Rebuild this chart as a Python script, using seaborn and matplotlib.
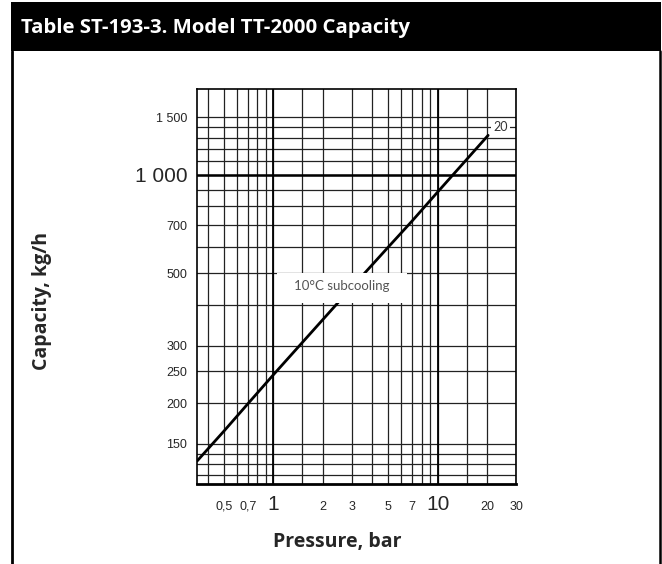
import seaborn as sns
import matplotlib.pyplot as plt
import pandas as pd
from matplotlib.patches import Rectangle

# values
pressure = [0.344, 0.5, 0.7, 1, 2, 3, 5, 7, 10, 20.3]
capacity = [133, 164, 199, 244, 360, 452, 600, 722, 885, 1320]

x_grid = [0.4, 0.5, 0.6, 0.7, 0.8, 0.9, 1, 1.5, 2, 3, 4, 5, 6, 7, 8, 9, 10, 15, 20, 30]
x_ticks = [0.5, 0.7, 1, 2, 3, 5, 7, 10, 20, 30]
x_labels = ["0,5", "0,7", "1", "2", "3", "5", "7", "10", "20", "30"]
y_grid = [120, 130, 140, 150, 200, 250, 300, 400, 500, 600, 700, 800, 900,
          1000, 1100, 1200, 1300, 1400, 1500]
y_ticks = [150, 200, 250, 300, 500, 700, 1000, 1500]
y_labels = ["150", "200", "250", "300", "500", "700", "1 000", "1 500"]
big_labels = ["1", "10", "1 000"]

df = pd.DataFrame({"Pressure": pressure, "Capacity": capacity})

sns.set_style("white")
plt.rcParams["font.family"] = ["Liberation Sans", "DejaVu Sans"]
head_font = ["Open Sans", "DejaVu Sans"]

W, H = 662, 564
fig = plt.figure(figsize=(W / 100, H / 100), dpi=100)
ax = fig.add_axes([197 / W, 1 - 484 / H, (516 - 197) / W, (484 - 89) / H])

sns.lineplot(data=df, x="Pressure", y="Capacity", color="black", linewidth=2.0, ax=ax, zorder=3)

ax.set_xscale("log")
ax.set_yscale("log")
ax.set_xlim(0.343, 30)
ax.set_ylim(113, 1830)

ax.set_xticks(x_grid, minor=True)
ax.set_yticks(y_grid, minor=True)
ax.set_xticks(x_ticks)
ax.set_xticklabels(x_labels)
ax.set_yticks(y_ticks)
ax.set_yticklabels(y_labels)
ax.xaxis.set_minor_formatter(plt.NullFormatter())
ax.yaxis.set_minor_formatter(plt.NullFormatter())
ax.tick_params(which="both", length=0)
ax.grid(which="both", color="#222222", linewidth=0.9)
ax.axhline(1000, color="black", linewidth=1.8, zorder=2)
ax.axvline(1, color="black", linewidth=1.3, zorder=2)
ax.axvline(10, color="black", linewidth=1.3, zorder=2)

for lab, tick in zip(ax.get_xticklabels(), ax.xaxis.get_major_ticks()):
    if lab.get_text() in big_labels:
        lab.set_fontsize(15)
        tick.set_pad(8)
    else:
        lab.set_fontsize(9)
        tick.set_pad(12)
for lab, tick in zip(ax.get_yticklabels(), ax.yaxis.get_major_ticks()):
    lab.set_fontsize(15 if lab.get_text() in big_labels else 9)
    tick.set_pad(7)

ax.set_xlabel("")
ax.set_ylabel("")
for side in ["left", "top", "right"]:
    ax.spines[side].set_linewidth(1.2)
    ax.spines[side].set_color("black")
ax.spines["bottom"].set_linewidth(2.0)
ax.spines["bottom"].set_color("black")

# label boxes
ax.add_patch(Rectangle((1.05, 405), 6.51 - 1.05, 500 - 405, facecolor="white",
                       edgecolor="none", zorder=4))
ax.text(2.6, 455, "10°C subcooling", ha="center", va="center", fontsize=9.5,
        color="#555555", family=["Lato", "DejaVu Sans"], zorder=5)
ax.text(24.1, 1396, "20", ha="center", va="center", fontsize=9, color="#333333",
        family=["Lato", "DejaVu Sans"], zorder=5,
        bbox=dict(facecolor="white", edgecolor="none", boxstyle="square,pad=0.2"))

# frame and header
fig.add_artist(Rectangle((11 / W, 1 - 51 / H), 650 / W, 49 / H, transform=fig.transFigure,
                         facecolor="black", edgecolor="none"))
fig.add_artist(plt.Line2D([12 / W, 12 / W], [0, 1 - 51 / H], transform=fig.transFigure,
                          color="black", linewidth=2.0))
fig.add_artist(plt.Line2D([660 / W, 660 / W], [0, 1 - 51 / H], transform=fig.transFigure,
                          color="black", linewidth=1.8))
fig.text(21 / W, 1 - 28 / H, "Table ST-193-3. Model TT-2000 Capacity", color="white",
         fontsize=14.7, fontweight="bold", va="center", ha="left", family=head_font)
fig.text(42 / W, 1 - 301 / H, "Capacity, kg/h", rotation=90, fontsize=14,
         fontweight="bold", va="center", ha="center", family=head_font)
fig.text(337 / W, 1 - 542 / H, "Pressure, bar", fontsize=14, fontweight="bold",
         va="center", ha="center", family=head_font)

fig.savefig("out.png", dpi=100)
